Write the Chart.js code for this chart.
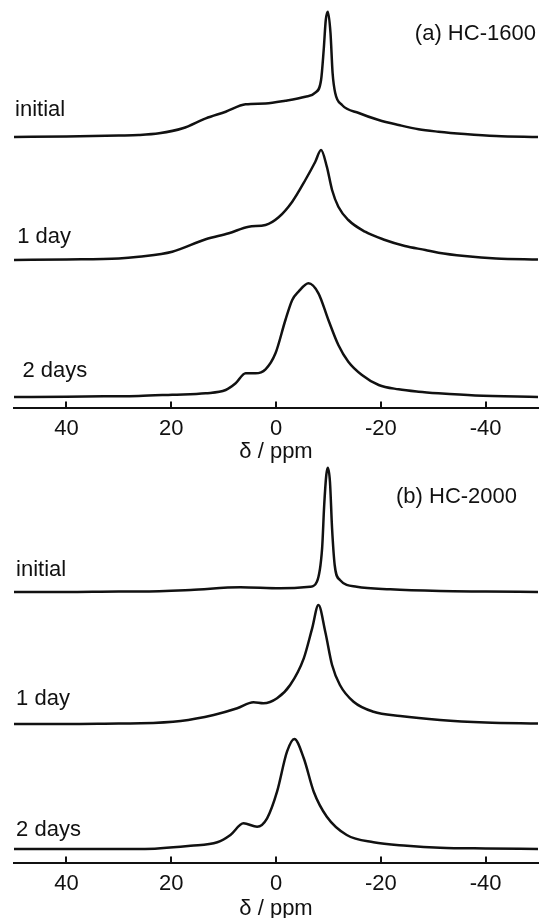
<!DOCTYPE html>
<html>
<head>
<meta charset="utf-8">
<script src="https://cdn.jsdelivr.net/npm/chart.js@4"></script>
<style>
  html, body { margin: 0; padding: 0; background: #fff; overflow: hidden; }
  .panel { position: absolute; left: 0; width: 539px; }
  #panelA { top: 0; height: 465px; }
  #panelB { top: 460px; height: 462px; }
</style>
</head>
<body>
<div class="panel" id="panelA"><canvas id="chartA"></canvas></div>
<div class="panel" id="panelB"><canvas id="chartB"></canvas></div>
<script>
// Метки оси δ (ppm)
const tickValues = [40, 20, 0, -20, -40];

// (a) HC-1600 — исходный образец
const a0Ppm = [50, 40, 30, 26.2, 22.3, 17.8, 13.4, 9.6, 5.8, 2.0, -1.8, -5.6, -7.5, -8.6, -9.1, -9.5, -9.9, -10.4, -10.8, -11.3, -12.6, -15.8, -19.6, -23.4, -27.2, -31, -36, -42, -50];
const a0Int = [0, 0.5, 1.5, 2, 3.7, 8.7, 18.7, 25.3, 32.7, 33.5, 36.3, 40.3, 44.3, 57, 87, 117, 125.3, 104, 64, 44, 32, 24, 17, 12, 7.7, 5.3, 3, 1, 0];
// (a) 1 день
const a1Ppm = [50, 40, 30, 26.2, 19.8, 13.4, 9.0, 5.2, 2.0, -0.5, -3.1, -5.6, -7.5, -8.6, -9.7, -10.7, -11.9, -13.8, -17, -20.8, -24.6, -28.5, -31, -36, -42, -50];
const a1Int = [0, 0.5, 1.5, 3.3, 8.3, 20.7, 26.7, 33.3, 35, 42.7, 58.3, 80, 98.3, 110, 93.3, 70, 53.3, 40, 28.3, 20, 14, 10, 7.3, 4, 1.5, 0.5];
// (a) 2 дня
const a2Ppm = [50, 40, 30, 26.2, 19.8, 13.4, 9.6, 7.7, 5.8, 3.9, 2.0, 0.1, -1.8, -3.1, -4.3, -6.2, -8.1, -10, -11.9, -13.8, -16.4, -19.6, -23.4, -27.2, -31, -38, -50];
const a2Int = [0, 0.3, 0.8, 1, 2.3, 3.7, 7, 13.7, 23.7, 23.7, 27.7, 43.7, 77, 97, 105.3, 113.7, 103.7, 77, 52, 35.3, 22, 12, 7.7, 5.3, 3.7, 1.5, 0];

// (b) HC-2000 — исходный образец
const b0Ppm = [50, 40, 30, 25.8, 16.3, 6.8, -0.8, -6.5, -7.8, -8.8, -9.2, -9.6, -9.9, -10.3, -10.7, -11.2, -12.2, -15.4, -21.8, -31.3, -40, -50];
const b0Int = [0, 0, 0.5, 0.5, 2, 4.7, 3.7, 5.3, 10.3, 43.7, 87, 117, 124.3, 110, 63.7, 27, 12, 5.3, 2.7, 1, 0.5, 0];
// (b) 1 день
const b1Ppm = [50, 40, 30, 25.8, 18.2, 11.9, 7.4, 4.3, 2.4, -0.2, -2.7, -5.3, -6.9, -8.1, -9.4, -10.7, -12.2, -14.8, -18.6, -23.7, -31.3, -40, -50];
const b1Int = [0, 0, 0.5, 0.7, 3, 9, 15.7, 21.7, 20.7, 25.7, 39, 65.7, 95.7, 119, 92.3, 59, 39, 22.3, 12.3, 8, 4, 1.5, 0.5];
// (b) 2 дня
const b2Ppm = [50, 40, 30, 25.8, 16.3, 11.2, 8.7, 6.2, 3.6, 1.7, -0.2, -2.1, -3.5, -5.3, -7.2, -9.7, -13.5, -18.6, -25, -31.3, -40, -50];
const b2Int = [0, 0, 0, 0, 3.3, 6.7, 14, 25.7, 22.3, 30.7, 57.3, 97.3, 110, 90.7, 57.3, 32.3, 14, 6.7, 3.3, 1.3, 0.5, 0];

// Смещения базовых линий спектров (исходный, 1 день, 2 дня)
const offsetsA = [270.5, 147.5, 10.5];
const offsetsB = [270.5, 138.5, 13.5];

const FONT = '"Liberation Sans", Arial, Helvetica, sans-serif';
const INK = '#111';

function toPoints(ppm, intensity, offset) {
  return ppm.map((p, i) => ({ x: p, y: intensity[i] + offset }));
}

function makeDataset(ppm, intensity, offset) {
  return {
    data: toPoints(ppm, intensity, offset),
    borderColor: INK,
    borderWidth: 2.5,
    pointRadius: 0,
    fill: false,
    cubicInterpolationMode: 'monotone'
  };
}

// Подписи спектров и панели
const textLabels = {
  id: 'textLabels',
  afterDatasetsDraw(chart, args, opts) {
    const { ctx, scales: { x, y } } = chart;
    ctx.save();
    ctx.font = '22px ' + FONT;
    ctx.fillStyle = INK;
    ctx.textBaseline = 'middle';
    opts.items.forEach(item => {
      ctx.textAlign = item.align || 'left';
      ctx.fillText(item.text, x.getPixelForValue(item.ppm), y.getPixelForValue(item.level));
    });
    ctx.restore();
  }
};

function makeChart(canvasId, datasets, yMax, axisHeight, labels) {
  const ctx = document.getElementById(canvasId).getContext('2d');
  return new Chart(ctx, {
    type: 'line',
    data: { datasets },
    options: {
      responsive: true,
      maintainAspectRatio: false,
      animation: false,
      layout: { padding: { left: 14, right: 1, top: 0, bottom: 0 } },
      scales: {
        x: {
          type: 'linear',
          min: -50,
          max: 50,
          reverse: true,
          border: { display: true, color: INK, width: 2 },
          grid: {
            display: true,
            drawOnChartArea: false,
            drawTicks: true,
            tickLength: -6,
            color: INK,
            lineWidth: 2
          },
          ticks: {
            color: INK,
            font: { size: 22, family: FONT },
            padding: 14,
            maxRotation: 0,
            autoSkip: false
          },
          afterBuildTicks: scale => {
            scale.ticks = tickValues.map(v => ({ value: v }));
          },
          afterFit: scale => {
            scale.height = axisHeight;
          },
          title: {
            display: true,
            text: 'δ / ppm',
            color: INK,
            font: { size: 22, family: FONT },
            padding: { top: 0, bottom: 0 }
          }
        },
        y: { display: false, min: 0, max: yMax }
      },
      plugins: {
        legend: { display: false },
        tooltip: { enabled: false },
        textLabels: { items: labels }
      }
    },
    plugins: [textLabels]
  });
}

// Панель (a)
makeChart('chartA', [
  makeDataset(a0Ppm, a0Int, offsetsA[0]),
  makeDataset(a1Ppm, a1Int, offsetsA[1]),
  makeDataset(a2Ppm, a2Int, offsetsA[2])
], 407.5, 57.5, [
  { text: 'initial', ppm: 49.8, level: 297.5 },
  { text: '1 day', ppm: 49.4, level: 170.5 },
  { text: '2 days', ppm: 48.4, level: 36.5 },
  { text: '(a) HC-1600', ppm: -49.6, level: 373.5, align: 'right' }
]);

// Панель (b)
makeChart('chartB', [
  makeDataset(b0Ppm, b0Int, offsetsB[0]),
  makeDataset(b1Ppm, b1Int, offsetsB[1]),
  makeDataset(b2Ppm, b2Int, offsetsB[2])
], 402.5, 59.5, [
  { text: 'initial', ppm: 49.6, level: 292.5 },
  { text: '1 day', ppm: 49.6, level: 163.5 },
  { text: '2 days', ppm: 49.6, level: 32.5 },
  { text: '(b) HC-2000', ppm: -46, level: 365.5, align: 'right' }
]);
</script>
</body>
</html>
